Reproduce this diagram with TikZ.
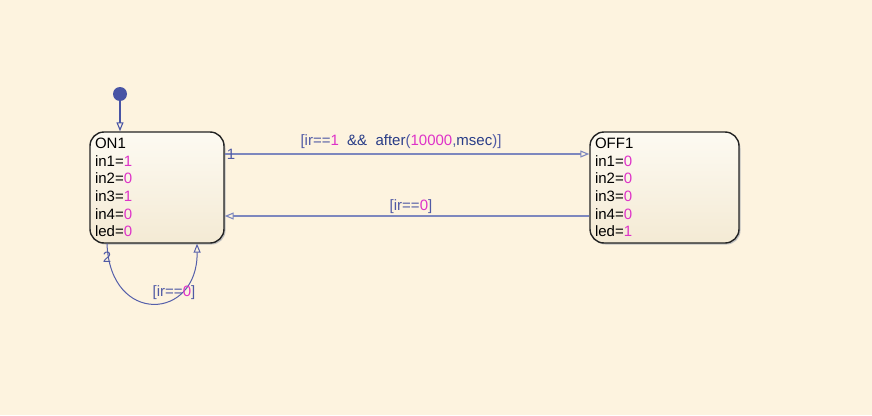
\documentclass[tikz,border=0pt]{standalone}
\usepackage{fontspec}
\setmainfont{Liberation Sans}
\usetikzlibrary{arrows.meta}
\definecolor{bg}{RGB}{253,243,223}
\definecolor{boxtop}{RGB}{253,250,242}
\definecolor{boxbot}{RGB}{244,234,212}
\definecolor{edge}{RGB}{35,35,35}
\definecolor{trline}{RGB}{125,135,190}
\definecolor{loopline}{RGB}{85,95,170}
\definecolor{lblblue}{RGB}{80,90,165}
\definecolor{kwblue}{RGB}{40,60,135}
\definecolor{num}{RGB}{222,50,200}
\definecolor{dotc}{RGB}{72,84,165}
\newcommand{\nm}[1]{\textcolor{num}{#1}}
\tikzset{
  statebox/.style={draw=edge, line width=1.4pt, rounded corners=14pt,
    top color=boxtop, bottom color=boxbot, align=left, anchor=center,
    inner xsep=4pt, inner ysep=0pt,
    font=\fontsize{15}{17.6}\selectfont, text=black},
  trans/.style={draw=trline, line width=1.1pt, -{Triangle[open,length=9pt,width=7pt]}},
  looptr/.style={draw=loopline, line width=1pt, -{Triangle[open,length=9pt,width=7pt]}},
  lbl/.style={text=lblblue, font=\fontsize{15}{17}\selectfont, inner sep=0pt},
}
\begin{document}
\begin{tikzpicture}[x=1pt,y=-1pt]
\fill[bg] (0,0) rectangle (872,415);
\useasboundingbox (0,0) rectangle (872,415);
% shadows
\fill[black!25, rounded corners=14pt] (91.5,134.5) rectangle (225.5,244.5);
\fill[black!25, rounded corners=14pt] (591.5,134.5) rectangle (740.5,244.5);
\node[statebox, minimum width=134pt, minimum height=111pt, text width=124pt] (ON1) at (157,187.5)
  {ON1\\in1=\nm{1}\\in2=\nm{0}\\in3=\nm{1}\\in4=\nm{0}\\led=\nm{0}};
\node[statebox, minimum width=149pt, minimum height=111pt, text width=139pt] (OFF1) at (664.5,187.5)
  {OFF1\\in1=\nm{0}\\in2=\nm{0}\\in3=\nm{0}\\in4=\nm{0}\\led=\nm{1}};
% default transition
\node[circle, fill=dotc, inner sep=0pt, minimum size=14pt] (init) at (120,94) {};
\draw[trans, draw=dotc] (init) -- (ON1.north -| init);
% ON1 -> OFF1
\draw[trans] ([yshift=33.5pt]ON1.east) -- ([yshift=33.5pt]OFF1.west);
\node[lbl] (n1) at (231,154) {1};
\node[lbl] (t1) at (401,142) {[ir==\nm{1}\ \ \textcolor{kwblue}{\&\&\ \ after}(\nm{10000},\textcolor{kwblue}{msec})]};
% OFF1 -> ON1
\draw[trans] ([yshift=-28.5pt]OFF1.west) -- ([yshift=-28.5pt]ON1.east);
\node[lbl] (t2) at (411,207) {[ir==\nm{0}]};
% self loop
\draw[looptr] ([xshift=-50pt]ON1.south) .. controls +(3,82) and +(1,77) .. ([xshift=40pt]ON1.south);
\node[lbl] (n2) at (107,257) {2};
\node[lbl] (t3) at (174,293) {[ir==\nm{0}]};
\end{tikzpicture}
\end{document}
